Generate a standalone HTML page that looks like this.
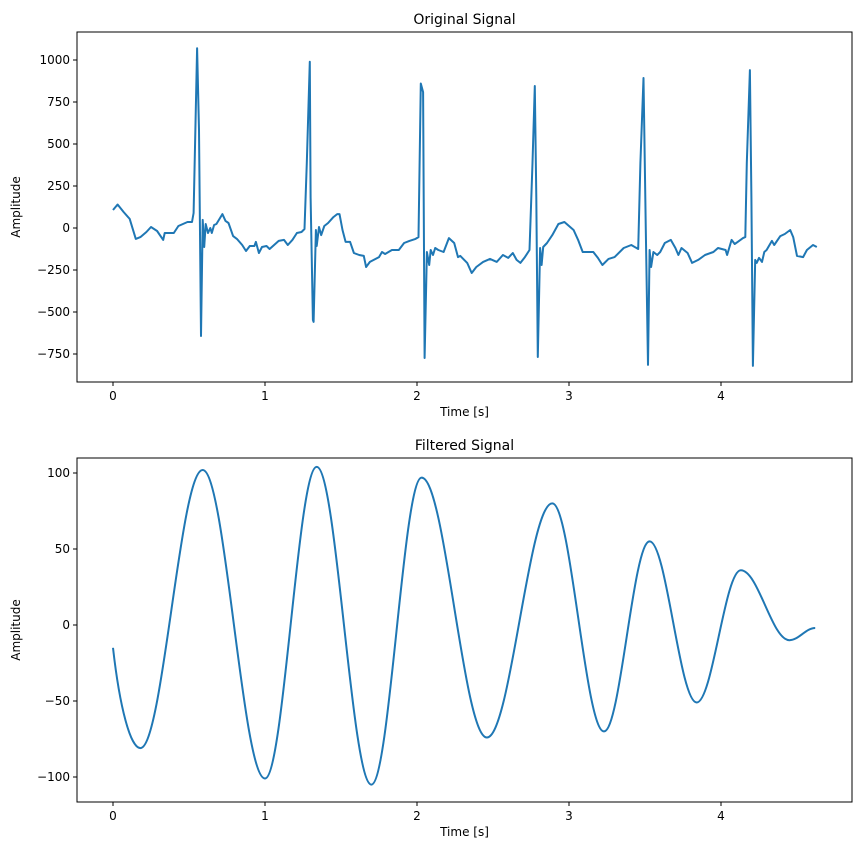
<!DOCTYPE html>
<html><head><meta charset="utf-8"><style>
body{margin:0;background:#fff;}
svg{display:block;font-family:"DejaVu Sans","Liberation Sans",sans-serif;}
</style></head><body>
<svg id="chart" width="862" height="855" viewBox="0 0 862 855"></svg>
<script>
// Original signal data (time s, amplitude)
const origT = [0,0.03,0.07,0.11,0.15,0.18,0.22,0.25,0.29,0.33,0.34,0.40,0.43,0.49,0.52,0.53,0.553,0.566,0.579,0.59,0.60,0.61,0.625,0.64,0.65,0.665,0.68,0.72,0.74,0.76,0.79,0.815,0.85,0.875,0.90,0.93,0.94,0.96,0.98,1.01,1.03,1.06,1.09,1.125,1.15,1.18,1.21,1.24,1.26,1.275,1.295,1.30,1.315,1.32,1.335,1.34,1.355,1.37,1.39,1.415,1.45,1.475,1.49,1.51,1.53,1.56,1.585,1.62,1.65,1.665,1.69,1.75,1.77,1.79,1.835,1.88,1.915,1.95,1.99,2.01,2.025,2.04,2.05,2.065,2.08,2.09,2.105,2.12,2.14,2.175,2.21,2.245,2.27,2.285,2.33,2.36,2.39,2.435,2.48,2.525,2.565,2.6,2.63,2.655,2.68,2.71,2.74,2.76,2.775,2.785,2.795,2.81,2.82,2.83,2.855,2.89,2.93,2.97,3.03,3.06,3.09,3.16,3.19,3.22,3.26,3.30,3.36,3.41,3.455,3.47,3.49,3.505,3.52,3.53,3.54,3.555,3.58,3.60,3.63,3.67,3.70,3.72,3.74,3.78,3.81,3.85,3.895,3.95,3.98,4.03,4.04,4.07,4.09,4.11,4.145,4.16,4.17,4.19,4.20,4.21,4.225,4.235,4.25,4.27,4.285,4.30,4.335,4.35,4.39,4.42,4.455,4.475,4.50,4.54,4.565,4.605,4.63];
const origV = [107,140,95,54,-65,-54,-24,6,-18,-71,-30,-30,12,36,36,89,1070,583,-643,48,-113,24,-30,0,-30,18,24,83,42,30,-48,-65,-101,-137,-107,-107,-83,-149,-113,-107,-125,-101,-77,-71,-101,-71,-30,-24,-6,387,990,184,-547,-559,-12,-107,6,-42,12,30,65,83,83,-12,-83,-83,-149,-161,-166,-232,-202,-173,-143,-155,-131,-131,-89,-77,-65,-54,860,809,-774,-143,-220,-131,-161,-119,-131,-143,-60,-89,-173,-166,-208,-268,-232,-202,-184,-202,-161,-178,-149,-190,-208,-173,-131,387,845,184,-768,-119,-220,-113,-89,-42,24,36,-12,-71,-143,-143,-178,-220,-184,-173,-119,-101,-125,387,893,-12,-815,-131,-232,-143,-161,-143,-89,-71,-119,-161,-119,-149,-208,-190,-161,-143,-119,-131,-161,-71,-95,-83,-60,-54,387,940,184,-821,-190,-208,-178,-202,-143,-131,-77,-101,-48,-36,-12,-54,-166,-173,-131,-101,-113];
// Filtered signal extrema (time s, amplitude)
const filtT = [0,0.18,0.59,1.0,1.34,1.70,2.03,2.46,2.89,3.23,3.53,3.84,4.13,4.45,4.62];
const filtV = [-15,-81,102,-101,104,-105,97,-74,80,-70,55,-51,36,-10,-2];
const xTicks = [0,1,2,3,4];
const yTicksTop = [-750,-500,-250,0,250,500,750,1000];
const yTicksBot = [-100,-50,0,50,100];

const svg = document.getElementById('chart');
const NS = 'http://www.w3.org/2000/svg';
function mk(tag, attrs, parent){const e=document.createElementNS(NS,tag);for(const k in attrs)e.setAttribute(k,attrs[k]);(parent||svg).appendChild(e);return e;}
const X0=77,X1=852;
const xs = t => 113 + t*152;
const ysTop = v => 228 - v*42/250;
const ysBot = v => 625 - v*76/50;

function axes(top,bot,ys,yTicks,title,prefix){
  const g=mk('g',{});
  
  
  const f=mk('rect',{x:X0,y:top,width:X1-X0,height:bot-top,fill:'none',stroke:'#000','stroke-width':1},g);
  
  
  xTicks.forEach(t=>{
    const x=xs(t);
    mk('line',{x1:x,x2:x,y1:bot,y2:bot+4,stroke:'#000'},g);
    const tx=mk('text',{x:x,y:bot+18,'text-anchor':'middle','font-size':12},g);
    tx.textContent=String(t);
    
    
  });
  yTicks.forEach(v=>{
    const y=ys(v);
    mk('line',{x1:X0-4,x2:X0,y1:y,y2:y,stroke:'#000'},g);
    const tx=mk('text',{x:X0-7,y:y+4,'text-anchor':'end','font-size':12},g);
    tx.textContent=(v<0?'\u2212'+(-v):String(v));
    
    
  });
  const tt=mk('text',{x:(X0+X1)/2,y:top-8,'text-anchor':'middle','font-size':14},g);
  tt.textContent=title;
  
  
  const xl=mk('text',{x:(X0+X1)/2,y:bot+34,'text-anchor':'middle','font-size':12},g);
  xl.textContent='Time [s]';
  
  
  const cy=(top+bot)/2;
  const yl=mk('text',{x:20,y:cy,'text-anchor':'middle','font-size':12,transform:'rotate(-90 20 '+cy+')'},g);
  yl.textContent='Amplitude';
  
  
}
axes(32,382,ysTop,yTicksTop,'Original Signal','original');
axes(458,802,ysBot,yTicksBot,'Filtered Signal','filtered');

let d='';
origT.forEach((t,i)=>{d+=(i?'L':'M')+xs(t).toFixed(1)+','+ysTop(origV[i]).toFixed(1);});
const l1=mk('path',{d:d,fill:'none',stroke:'#1f77b4','stroke-width':2,'stroke-linejoin':'round'});



let d2='M'+xs(filtT[0])+','+ysBot(filtV[0]);
for(let i=1;i<filtT.length;i++){
  const xa=xs(filtT[i-1]),ya=ysBot(filtV[i-1]),xb=xs(filtT[i]),yb=ysBot(filtV[i]);
  const dx=xb-xa;
  const c1y = i===1 ? ya+(yb-ya)*0.6 : ya;
  const c1x = i===1 ? xa+dx*0.25 : xa+dx*0.36;
  d2+='C'+c1x.toFixed(1)+','+c1y.toFixed(1)+' '+(xb-dx*0.36).toFixed(1)+','+yb.toFixed(1)+' '+xb.toFixed(1)+','+yb.toFixed(1);
}
const l2=mk('path',{d:d2,fill:'none',stroke:'#1f77b4','stroke-width':2});


</script>
</body></html>
